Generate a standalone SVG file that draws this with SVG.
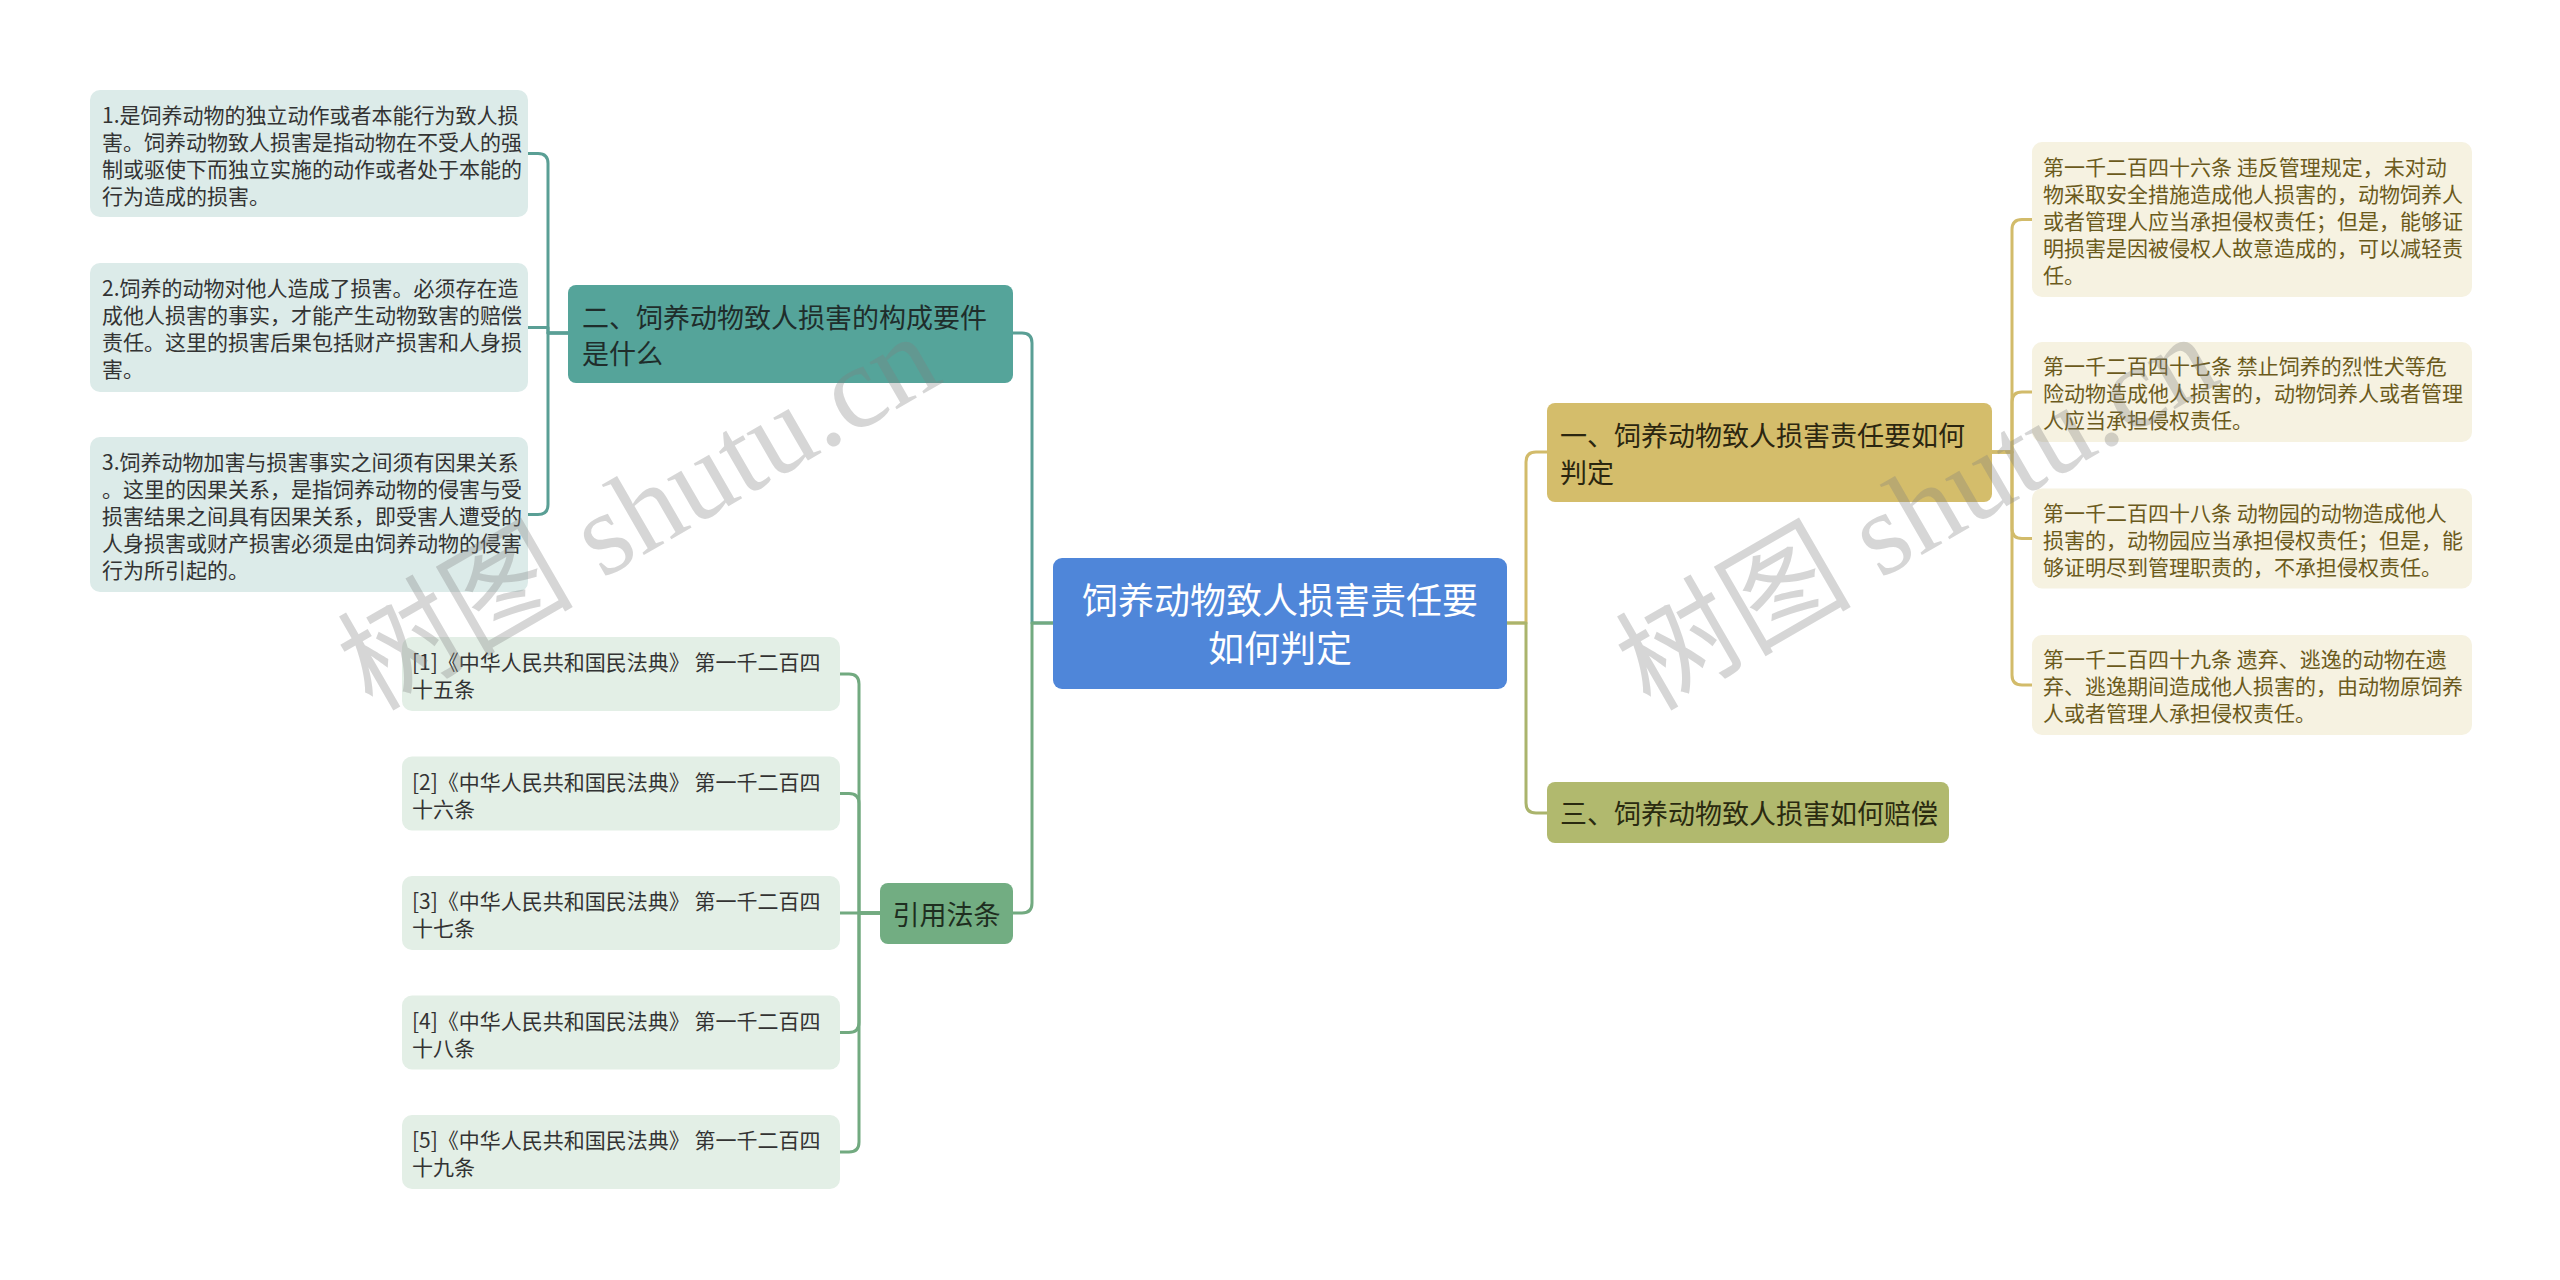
<svg xmlns="http://www.w3.org/2000/svg" width="2560" height="1280" viewBox="0 0 2560 1280">
<style>
text{font-family:"Noto Sans CJK SC","Microsoft YaHei",sans-serif;dominant-baseline:central}
.c{fill:none;stroke-width:3;stroke-linecap:round;stroke-linejoin:round}
.teal{stroke:#5a9f95}.grn{stroke:#72aa80}.yel{stroke:#d2bb6a}.olv{stroke:#aab46c}
.t21{font-size:21px;fill:#333}
.t21y{font-size:21px;fill:#6b5a1c}
.t27{font-size:27px}
.wm{font-family:"Liberation Serif","Noto Sans CJK SC",serif;font-size:118px;fill:#808080;fill-opacity:0.32;dominant-baseline:auto}
</style>
<rect width="2560" height="1280" fill="#ffffff"/>
<g id="connectors">
<path class="c teal" d="M1053 623H1032V343Q1032 333 1022 333H1013"/>
<path class="c grn" d="M1053 623H1032V903Q1032 913 1022 913H1013"/>
<path class="c yel" d="M1507 623H1526V462Q1526 452 1536 452H1547"/>
<path class="c olv" d="M1507 623H1526V803Q1526 813 1536 813H1547"/>
<path class="c teal" d="M568 333H548V163.5Q548 153.5 538 153.5H528"/>
<path class="c teal" d="M568 333H548V327.5H528"/>
<path class="c teal" d="M568 333H548V504.5Q548 514.5 538 514.5H528"/>
<path class="c grn" d="M880 913H859V684Q859 674 849 674H840"/>
<path class="c grn" d="M880 913H859V803.5Q859 793.5 849 793.5H840"/>
<path class="c grn" d="M880 913H840"/>
<path class="c grn" d="M880 913H859V1022.5Q859 1032.5 849 1032.5H840"/>
<path class="c grn" d="M880 913H859V1142Q859 1152 849 1152H840"/>
<path class="c yel" d="M1991 452H2012V229.5Q2012 219.5 2022 219.5H2032"/>
<path class="c yel" d="M1991 452H2012V402Q2012 392 2022 392H2032"/>
<path class="c yel" d="M1991 452H2012V528.5Q2012 538.5 2022 538.5H2032"/>
<path class="c yel" d="M1991 452H2012V675Q2012 685 2022 685H2032"/>
</g>
<g id="root">
<rect x="1053" y="558" width="454" height="131" rx="9" fill="#4f86d9"/>
<text x="1280" y="598" font-size="36" fill="#ffffff" text-anchor="middle">饲养动物致人损害责任要</text>
<text x="1280" y="646" font-size="36" fill="#ffffff" text-anchor="middle">如何判定</text>
</g>
<g id="n2">
<rect x="568" y="285" width="445" height="98" rx="8" fill="#55a49a"/>
<text class="t27" x="582" y="316" fill="#1f2d2b">二、饲养动物致人损害的构成要件</text>
<text class="t27" x="582" y="352" fill="#1f2d2b">是什么</text>
</g>
<g id="n2a">
<rect x="90" y="90" width="438" height="127" rx="10" fill="#dcebe9"/>
<text class="t21" x="102" y="114">1.是饲养动物的独立动作或者本能行为致人损</text>
<text class="t21" x="102" y="141">害。饲养动物致人损害是指动物在不受人的强</text>
<text class="t21" x="102" y="168">制或驱使下而独立实施的动作或者处于本能的</text>
<text class="t21" x="102" y="195">行为造成的损害。</text>
</g>
<g id="n2b">
<rect x="90" y="263" width="438" height="129" rx="10" fill="#dcebe9"/>
<text class="t21" x="102" y="287">2.饲养的动物对他人造成了损害。必须存在造</text>
<text class="t21" x="102" y="314">成他人损害的事实，才能产生动物致害的赔偿</text>
<text class="t21" x="102" y="341">责任。这里的损害后果包括财产损害和人身损</text>
<text class="t21" x="102" y="368">害。</text>
</g>
<g id="n2c">
<rect x="90" y="437" width="438" height="155" rx="10" fill="#dcebe9"/>
<text class="t21" x="102" y="460.5">3.饲养动物加害与损害事实之间须有因果关系</text>
<text class="t21" x="102" y="487.5">。这里的因果关系，是指饲养动物的侵害与受</text>
<text class="t21" x="102" y="514.5">损害结果之间具有因果关系，即受害人遭受的</text>
<text class="t21" x="102" y="541.5">人身损害或财产损害必须是由饲养动物的侵害</text>
<text class="t21" x="102" y="568.5">行为所引起的。</text>
</g>
<g id="n4">
<rect x="880" y="883" width="133" height="61" rx="8" fill="#72ad82"/>
<text class="t27" x="946.5" y="913" fill="#1e2e20" text-anchor="middle">引用法条</text>
</g>
<g id="r1">
<rect x="402" y="637" width="438" height="74" rx="10" fill="#e3efe6"/>
<text class="t21" x="412" y="661">[1]《中华人民共和国民法典》 第一千二百四</text>
<text class="t21" x="412" y="688">十五条</text>
</g>
<g id="r2">
<rect x="402" y="756.5" width="438" height="74" rx="10" fill="#e3efe6"/>
<text class="t21" x="412" y="780.5">[2]《中华人民共和国民法典》 第一千二百四</text>
<text class="t21" x="412" y="807.5">十六条</text>
</g>
<g id="r3">
<rect x="402" y="876" width="438" height="74" rx="10" fill="#e3efe6"/>
<text class="t21" x="412" y="900">[3]《中华人民共和国民法典》 第一千二百四</text>
<text class="t21" x="412" y="927">十七条</text>
</g>
<g id="r4">
<rect x="402" y="995.5" width="438" height="74" rx="10" fill="#e3efe6"/>
<text class="t21" x="412" y="1019.5">[4]《中华人民共和国民法典》 第一千二百四</text>
<text class="t21" x="412" y="1046.5">十八条</text>
</g>
<g id="r5">
<rect x="402" y="1115" width="438" height="74" rx="10" fill="#e3efe6"/>
<text class="t21" x="412" y="1139">[5]《中华人民共和国民法典》 第一千二百四</text>
<text class="t21" x="412" y="1166">十九条</text>
</g>
<g id="n1">
<rect x="1547" y="403" width="445" height="99" rx="8" fill="#d4bd6b"/>
<text class="t27" x="1560" y="434" fill="#2b2610">一、饲养动物致人损害责任要如何</text>
<text class="t27" x="1560" y="471" fill="#2b2610">判定</text>
</g>
<g id="n3">
<rect x="1547" y="782" width="402" height="61" rx="8" fill="#b1b96e"/>
<text class="t27" x="1560" y="812.5" fill="#2a2a10">三、饲养动物致人损害如何赔偿</text>
</g>
<g id="a1">
<rect x="2032" y="142" width="440" height="155" rx="10" fill="#f6f2e1"/>
<text class="t21y" x="2043" y="165.5">第一千二百四十六条 违反管理规定，未对动</text>
<text class="t21y" x="2043" y="192.5">物采取安全措施造成他人损害的，动物饲养人</text>
<text class="t21y" x="2043" y="219.5">或者管理人应当承担侵权责任；但是，能够证</text>
<text class="t21y" x="2043" y="246.5">明损害是因被侵权人故意造成的，可以减轻责</text>
<text class="t21y" x="2043" y="273.5">任。</text>
</g>
<g id="a2">
<rect x="2032" y="342" width="440" height="100" rx="10" fill="#f6f2e1"/>
<text class="t21y" x="2043" y="365">第一千二百四十七条 禁止饲养的烈性犬等危</text>
<text class="t21y" x="2043" y="392">险动物造成他人损害的，动物饲养人或者管理</text>
<text class="t21y" x="2043" y="419">人应当承担侵权责任。</text>
</g>
<g id="a3">
<rect x="2032" y="488.5" width="440" height="100" rx="10" fill="#f6f2e1"/>
<text class="t21y" x="2043" y="511.5">第一千二百四十八条 动物园的动物造成他人</text>
<text class="t21y" x="2043" y="538.5">损害的，动物园应当承担侵权责任；但是，能</text>
<text class="t21y" x="2043" y="565.5">够证明尽到管理职责的，不承担侵权责任。</text>
</g>
<g id="a4">
<rect x="2032" y="635" width="440" height="100" rx="10" fill="#f6f2e1"/>
<text class="t21y" x="2043" y="658">第一千二百四十九条 遗弃、逃逸的动物在遗</text>
<text class="t21y" x="2043" y="685">弃、逃逸期间造成他人损害的，由动物原饲养</text>
<text class="t21y" x="2043" y="712">人或者管理人承担侵权责任。</text>
</g>
<g id="watermark">
<text class="wm" transform="translate(372,712) rotate(-30)">树图 shutu.cn</text>
<text class="wm" transform="translate(1650,712) rotate(-30)">树图 shutu.cn</text>
</g>
</svg>
